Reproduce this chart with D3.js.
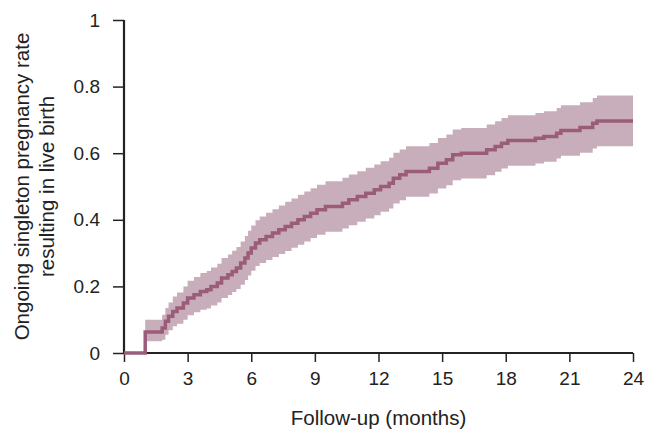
<!DOCTYPE html>
<html>
<head>
<meta charset="utf-8">
<script src="https://cdn.jsdelivr.net/npm/d3@7"></script>
<style>
  html, body { margin: 0; padding: 0; background: #fff; }
  svg text { font-family: "Liberation Sans", Arial, sans-serif; fill: #222; }
</style>
</head>
<body>
<svg id="chart" width="647" height="430"></svg>
<script>
// Follow-up time (months) at which the estimate steps
const times = [0, 1.0, 1.8, 1.95, 2.1, 2.3, 2.5, 2.8, 3.0, 3.3,
  3.6, 3.9, 4.1, 4.4, 4.6, 4.9, 5.1, 5.3, 5.5, 5.7,
  5.85, 6.0, 6.2, 6.4, 6.7, 7.0, 7.3, 7.6, 7.9, 8.2,
  8.5, 8.8, 9.1, 9.5, 10.3, 10.6, 11.0, 11.4, 11.8, 12.1,
  12.5, 12.7, 13.0, 13.3, 14.4, 14.8, 15.2, 15.5, 15.9, 17.1,
  17.5, 17.8, 18.1, 19.4, 19.8, 20.4, 20.6, 21.5, 22.1, 22.3];
// Cumulative ongoing singleton pregnancy rate
const estimate = [0, 0.063, 0.075, 0.095, 0.11, 0.125, 0.135, 0.15, 0.165, 0.175,
  0.185, 0.19, 0.2, 0.21, 0.225, 0.235, 0.245, 0.255, 0.27, 0.285,
  0.3, 0.315, 0.33, 0.34, 0.35, 0.36, 0.37, 0.38, 0.39, 0.4,
  0.41, 0.42, 0.43, 0.44, 0.45, 0.46, 0.47, 0.48, 0.49, 0.5,
  0.51, 0.525, 0.535, 0.545, 0.555, 0.57, 0.58, 0.595, 0.6, 0.61,
  0.62, 0.63, 0.638, 0.645, 0.65, 0.66, 0.668, 0.677, 0.69, 0.697];
// 95% confidence band
const lower = [null, 0.035, 0.04, 0.055, 0.068, 0.08, 0.088, 0.1, 0.113, 0.122,
  0.13, 0.134, 0.143, 0.152, 0.165, 0.174, 0.183, 0.192, 0.205, 0.219,
  0.233, 0.247, 0.261, 0.27, 0.279, 0.288, 0.297, 0.306, 0.316, 0.325,
  0.335, 0.345, 0.355, 0.364, 0.374, 0.384, 0.394, 0.404, 0.414, 0.424,
  0.434, 0.449, 0.459, 0.469, 0.479, 0.494, 0.504, 0.519, 0.524, 0.534,
  0.544, 0.554, 0.562, 0.569, 0.574, 0.584, 0.592, 0.601, 0.614, 0.621];
const upper = [null, 0.1, 0.115, 0.135, 0.152, 0.17, 0.182, 0.2, 0.217, 0.228,
  0.24, 0.246, 0.257, 0.268, 0.285, 0.296, 0.307, 0.318, 0.335, 0.351,
  0.367, 0.383, 0.399, 0.41, 0.421, 0.432, 0.443, 0.454, 0.464, 0.475,
  0.485, 0.495, 0.505, 0.516, 0.526, 0.536, 0.546, 0.556, 0.566, 0.576,
  0.586, 0.601, 0.611, 0.621, 0.631, 0.646, 0.656, 0.671, 0.676, 0.686,
  0.696, 0.706, 0.714, 0.721, 0.726, 0.736, 0.744, 0.753, 0.766, 0.773];
const endTime = 24;
const xTicks = [0, 3, 6, 9, 12, 15, 18, 21, 24];
const yTicks = [0, 0.2, 0.4, 0.6, 0.8, 1];
const yTickLabels = ["0", "0.2", "0.4", "0.6", "0.8", "1"];
const xTitle = "Follow-up (months)";
const yTitleLines = ["Ongoing singleton pregnancy rate", "resulting in live birth"];

const svg = d3.select("#chart");
const x = d3.scaleLinear().domain([0, 24]).range([124, 633]);
const y = d3.scaleLinear().domain([0, 1]).range([353, 20]);

const pts = times.map((t, i) => ({t, v: estimate[i], lo: lower[i], hi: upper[i]}));
const last = pts[pts.length - 1];
const linePts = pts.concat([{t: endTime, v: last.v, lo: last.lo, hi: last.hi}]);
const bandPts = linePts.filter(d => d.lo !== null);

const bandColor = "#c8aeba";
const lineColor = "#9b5c79";

svg.append("path")
  .datum(bandPts)
  .attr("fill", bandColor)
  .attr("d", d3.area().curve(d3.curveStepAfter)
    .x(d => x(d.t)).y0(d => y(d.lo)).y1(d => y(d.hi)));

// axes
const axisColor = "#222";
const gx = svg.append("g").attr("transform", `translate(0,${y(0)})`)
  .call(d3.axisBottom(x).tickValues(xTicks).tickSize(9).tickPadding(10).tickFormat(d3.format("d")));
const gy = svg.append("g").attr("transform", `translate(${x(0)},0)`)
  .call(d3.axisLeft(y).tickValues(yTicks).tickSize(11).tickPadding(13)
    .tickFormat((d, i) => yTickLabels[i]));
[gx, gy].forEach(g => {
  g.select(".domain").attr("stroke", axisColor).attr("stroke-width", 2.2);
  g.selectAll(".tick line").attr("stroke", axisColor).attr("stroke-width", 1.5);
  g.selectAll(".tick text").attr("font-size", 19).attr("fill", axisColor)
    .style("font-family", '"Liberation Sans", Arial, sans-serif');
});
gx.select(".domain").attr("d", `M${x(0)},0H${x(24)}`);
gy.select(".domain").attr("d", `M0,${y(1)}V${y(0)}`);

svg.append("path")
  .datum(linePts)
  .attr("fill", "none")
  .attr("stroke", lineColor)
  .attr("stroke-width", 3.5)
  .attr("d", d3.line().curve(d3.curveStepAfter).x(d => x(d.t)).y(d => y(d.v)));

svg.append("text")
  .attr("x", (x(0) + x(24)) / 2).attr("y", 425)
  .attr("text-anchor", "middle").attr("font-size", 20.5)
  .text(xTitle);

const yc = (y(0) + y(1)) / 2;
[21, 46].forEach((cx, i) => {
  svg.append("text")
    .attr("transform", `translate(${cx},${yc}) rotate(-90)`)
    .attr("text-anchor", "middle").attr("dominant-baseline", "central")
    .attr("font-size", 20.5)
    .text(yTitleLines[i]);
});
</script>
</body>
</html>
